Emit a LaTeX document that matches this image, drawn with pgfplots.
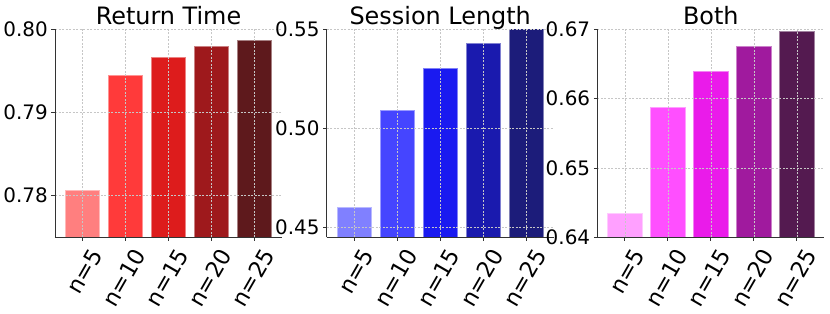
\documentclass[border=0pt]{standalone}
\usepackage{pgfplots}
\pgfplotsset{compat=1.18}
\usepackage{fontspec}
\setmainfont{DejaVu Sans}
\definecolor{ra}{HTML}{FF7F7F}
\definecolor{rb}{HTML}{FF3A3A}
\definecolor{rc}{HTML}{DD1C1C}
\definecolor{rd}{HTML}{9E191C}
\definecolor{re}{HTML}{5E191C}
\definecolor{ba}{HTML}{8080FF}
\definecolor{bb}{HTML}{4545FF}
\definecolor{bc}{HTML}{1A1AF0}
\definecolor{bd}{HTML}{1A1AAE}
\definecolor{be}{HTML}{1C1C7A}
\definecolor{ma}{HTML}{FFA0FF}
\definecolor{mb}{HTML}{FF4FFF}
\definecolor{mc}{HTML}{EA1BEA}
\definecolor{md}{HTML}{A01A9E}
\definecolor{me}{HTML}{541A50}
\pgfplotsset{
  panel/.style={
    scale only axis, width=227bp, height=208bp,
    axis x line*=bottom, axis y line*=left,
    xmin=-0.64, xmax=4.64,
    xtick={0,1,2,3,4}, xticklabels={n=5,n=10,n=15,n=20,n=25},
    ybar, bar width=0.8,
    grid=major,
    major grid style={gray!45, line width=0.5bp, dash pattern=on 2bp off 1.5bp},
    axis on top,
    tick align=outside, major tick length=3.5bp,
    tick style={black!80, line width=0.8bp},
    axis line style={black!80, line width=0.8bp},
    /pgf/number format/assume math mode=true,
    yticklabel style={font=\fontsize{20}{24}\selectfont, /pgf/number format/fixed, /pgf/number format/fixed zerofill, /pgf/number format/precision=2, anchor=east, inner sep=0pt, xshift=-3.5bp},
    xticklabel style={font=\fontsize{22.5}{26}\selectfont, anchor=east, inner sep=0pt, xshift=14bp, yshift=-10bp, rotate=60},
    title style={font=\fontsize{24}{28}\selectfont, at={(0.5,1)}, anchor=base, inner sep=0pt, yshift=-1bp},
  },
  bb/.style={fill=#1, draw=#1!55!white, line width=0.6bp, bar shift=0pt},
}
\begin{document}
\begin{tikzpicture}
\useasboundingbox (0,0) rectangle (830bp,314bp);
\begin{axis}[panel, at={(55bp,76.7bp)}, anchor=south west,
  ymin=0.775, ymax=0.80, ytick={0.78,0.79,0.80}, title={Return Time}]
\addplot[bb=ra] coordinates {(0,0.7806)};
\addplot[bb=rb] coordinates {(1,0.79446)};
\addplot[bb=rc] coordinates {(2,0.79658)};
\addplot[bb=rd] coordinates {(3,0.7979)};
\addplot[bb=re] coordinates {(4,0.79863)};
\end{axis}
\begin{axis}[panel, at={(326.7bp,76.7bp)}, anchor=south west,
  ymin=0.445, ymax=0.55, ytick={0.45,0.50,0.55}, title={Session Length}]
\addplot[bb=ba] coordinates {(0,0.4599)};
\addplot[bb=bb] coordinates {(1,0.5092)};
\addplot[bb=bc] coordinates {(2,0.5303)};
\addplot[bb=bd] coordinates {(3,0.5431)};
\addplot[bb=be] coordinates {(4,0.5505)};
\end{axis}
\begin{axis}[panel, at={(597.3bp,76.7bp)}, anchor=south west,
  ymin=0.64, ymax=0.67, ytick={0.64,0.65,0.66,0.67}, title={Both}]
\addplot[bb=ma] coordinates {(0,0.64346)};
\addplot[bb=mb] coordinates {(1,0.6587)};
\addplot[bb=mc] coordinates {(2,0.6640)};
\addplot[bb=md] coordinates {(3,0.6675)};
\addplot[bb=me] coordinates {(4,0.6697)};
\end{axis}
\end{tikzpicture}
\end{document}
